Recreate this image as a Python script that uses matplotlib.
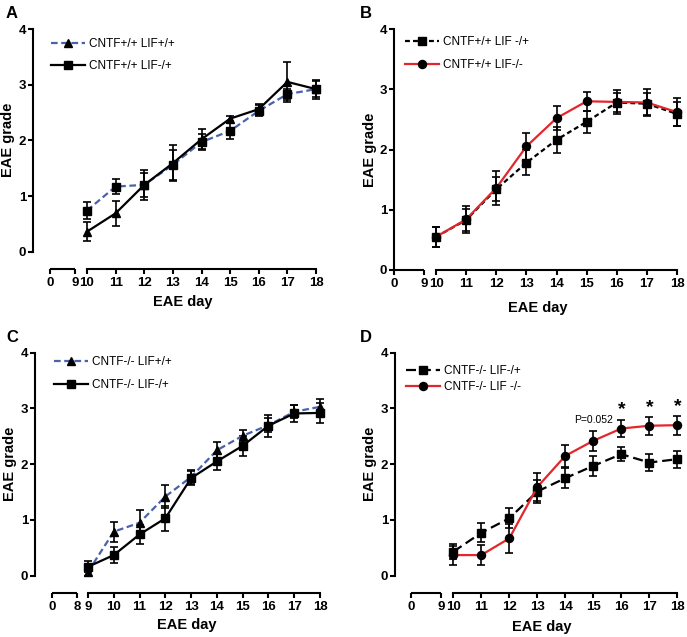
"""EAE clinical score time courses, four panels (A-D)."""

import matplotlib
matplotlib.use("Agg")
import matplotlib.pyplot as plt
from matplotlib.lines import Line2D
from matplotlib.transforms import blended_transform_factory, ScaledTranslation
import numpy as np

plt.rcParams["font.family"] = ["Liberation Sans", "DejaVu Sans"]

W, H, DPI = 687, 637, 100
BLUE = "#4a62ab"
RED = "#e2262c"

# ---- data -------------------------------------------------------------
days_a = [10, 11, 12, 13, 14, 15, 16, 17, 18]
a_wt = [0.74, 1.17, 1.20, 1.56, 1.97, 2.17, 2.53, 2.83, 2.92]     # blue dashed line
a_wt_err = [0.15, 0.14, 0.27, 0.27, 0.15, 0.14, 0.10, 0.10, 0.17]
a_het = [0.36, 0.69, 1.20, 1.59, 2.02, 2.39, 2.56, 3.05, 2.92]    # black solid line
a_het_err = [0.17, 0.22, 0.22, 0.32, 0.18, 0.05, 0.10, 0.36, 0.15]

days_b = [10, 11, 12, 13, 14, 15, 16, 17, 18]
b_het = [0.55, 0.83, 1.34, 1.78, 2.16, 2.46, 2.78, 2.76, 2.59]
b_het_err = [0.17, 0.18, 0.20, 0.21, 0.21, 0.18, 0.15, 0.18, 0.20]
b_ko = [0.55, 0.84, 1.36, 2.05, 2.52, 2.80, 2.79, 2.78, 2.62]
b_ko_err = [0.17, 0.22, 0.28, 0.23, 0.20, 0.16, 0.20, 0.22, 0.23]

days_c = [9, 10, 11, 12, 13, 14, 15, 16, 17, 18]
c_wt = [0.07, 0.79, 0.95, 1.42, 1.77, 2.25, 2.51, 2.70, 2.94, 3.03]
c_wt_err = [0.08, 0.18, 0.22, 0.21, 0.12, 0.15, 0.11, 0.12, 0.12, 0.14]
c_het = [0.16, 0.37, 0.74, 1.03, 1.75, 2.05, 2.33, 2.69, 2.91, 2.92]
c_het_err = [0.10, 0.15, 0.17, 0.22, 0.12, 0.15, 0.18, 0.20, 0.15, 0.18]

days_d = [10, 11, 12, 13, 14, 15, 16, 17, 18]
d_het = [0.43, 0.77, 1.03, 1.51, 1.75, 1.97, 2.18, 2.03, 2.09]
d_het_err = [0.13, 0.17, 0.18, 0.20, 0.18, 0.18, 0.12, 0.15, 0.15]
d_ko = [0.37, 0.37, 0.67, 1.59, 2.15, 2.42, 2.64, 2.69, 2.70]
d_ko_err = [0.17, 0.18, 0.26, 0.25, 0.20, 0.18, 0.16, 0.16, 0.17]
d_star_days = [16, 17, 18]
d_pval_day = 15
d_pval = "P=0.052"

# ---- layout (pixel positions of each panel) ---------------------------
LAYOUT = {
    "A": dict(left=33, top=29, zero=251.7, xaxis=269, x_first=87, x_last=316,
              seg=(50, 75), seg_labels=("0", "9"), first_day=10,
              letter=(12, 13), xlab=(183, 302), ylab=(8, 140)),
    "B": dict(left=394, top=29, zero=270, xaxis=270, x_first=436, x_last=677,
              seg=(394, 424), seg_labels=("0", "9"), first_day=10,
              letter=(366, 13), xlab=(538, 308), ylab=(370, 150)),
    "C": dict(left=35, top=352.7, zero=575.7, xaxis=593, x_first=88, x_last=320,
              seg=(52, 77), seg_labels=("0", "8"), first_day=9,
              letter=(12, 337), xlab=(187, 625), ylab=(10, 464)),
    "D": dict(left=395, top=352.7, zero=575.7, xaxis=593, x_first=453.3, x_last=677.3,
              seg=(410.7, 440.7), seg_labels=("0", "9"), first_day=10,
              letter=(366, 337), xlab=(542, 627), ylab=(370, 464)),
}


def fx(p):
    return p / W


def fy(p):
    return 1 - p / H


def make_panel(fig, name):
    lay = LAYOUT[name]
    first = lay["first_day"]
    per_day = (lay["x_last"] - lay["x_first"]) / (18 - first)

    def px2day(p):
        return first + (p - lay["x_first"]) / per_day

    ax = fig.add_axes([fx(lay["left"]), fy(lay["zero"]),
                       (lay["x_last"] - lay["left"]) / W, (lay["zero"] - lay["top"]) / H])
    ax.set_xlim(px2day(lay["left"]), 18)
    ax.set_ylim(0, 4)

    for s in ("top", "right"):
        ax.spines[s].set_visible(False)
    offset_px = lay["xaxis"] - lay["zero"]
    ax.spines["bottom"].set_position(("outward", offset_px * 72 / DPI))
    ax.spines["bottom"].set_bounds(first, 18)
    ax.spines["left"].set_bounds(0, 4)
    for s in ("bottom", "left"):
        ax.spines[s].set_linewidth(1.5)

    seg = [px2day(p) for p in lay["seg"]]
    days = list(range(first, 19))
    ax.set_xticks(seg + days)
    ax.set_xticklabels(list(lay["seg_labels"]) + [str(d) for d in days])
    ax.set_yticks([0, 1, 2, 3, 4])
    ax.tick_params(width=1.5, length=3.5, labelsize=9.5, pad=1.5)
    ax.tick_params(axis="x", pad=2.5)
    for lbl in ax.get_xticklabels() + ax.get_yticklabels():
        lbl.set_fontweight("bold")

    # short first segment of the broken x axis
    tr = blended_transform_factory(ax.transData, ax.transAxes) + \
        ScaledTranslation(0, -offset_px / DPI, fig.dpi_scale_trans)
    ax.plot(seg, [0, 0], color="black", lw=1.5, transform=tr, clip_on=False,
            solid_capstyle="butt")

    fig.text(fx(lay["letter"][0]), fy(lay["letter"][1]), name, fontsize=12,
             fontweight="bold", ha="center", va="center")
    fig.text(fx(lay["xlab"][0]), fy(lay["xlab"][1]), "EAE day", fontsize=10.5,
             fontweight="bold", ha="center", va="center")
    fig.text(fx(lay["ylab"][0]), fy(lay["ylab"][1]), "EAE grade", fontsize=10.5,
             fontweight="bold", ha="center", va="center", rotation=90)
    return ax


def series(ax, x, y, err, color, ls, marker, ms=6.3, lw=1.6):
    eb = ax.errorbar(x, y, yerr=err, fmt="none", ecolor="black", elinewidth=1.2,
                     capsize=3, capthick=1.2, zorder=2)
    for child in eb.get_children():
        child.set_clip_on(False)
    line, = ax.plot(x, y, color=color, lw=lw, marker=marker, ms=ms, mfc="black",
                    mec="black", clip_on=False, zorder=3)
    if isinstance(ls, tuple):
        line.set_dashes(ls)
    else:
        line.set_linestyle(ls)
    return line


def handle(color, ls, marker, ms=6.3):
    h = Line2D([], [], color=color, lw=1.6, marker=marker, ms=ms, mfc="black", mec="black")
    if isinstance(ls, tuple):
        h.set_dashes(ls)
    else:
        h.set_linestyle(ls)
    return h


def legend(ax, handles, labels, x, y, spacing):
    ax.legend(handles, labels, loc="upper left", bbox_to_anchor=(fx(x), fy(y)),
              bbox_transform=ax.figure.transFigure, frameon=False, fontsize=8.5,
              borderpad=0, borderaxespad=0, handlelength=2.9, handletextpad=0.35,
              labelspacing=spacing, numpoints=1)


fig = plt.figure(figsize=(W / DPI, H / DPI), dpi=DPI)

blue_dash = (3.0, 1.6)
b_dash = (2.2, 1.4)
d_dash = (4.5, 2.2)

# A
ax = make_panel(fig, "A")
series(ax, days_a, a_wt, a_wt_err, BLUE, blue_dash, "s")
series(ax, days_a, a_het, a_het_err, "black", "-", "^")
legend(ax, [handle(BLUE, blue_dash, "^"), handle("black", "-", "s")],
       ["CNTF+/+ LIF+/+", "CNTF+/+ LIF-/+"], 51, 38, 0.85)

# B
ax = make_panel(fig, "B")
series(ax, days_b, b_het, b_het_err, "black", b_dash, "s")
series(ax, days_b, b_ko, b_ko_err, RED, "-", "o", ms=5.8)
legend(ax, [handle("black", b_dash, "s"), handle(RED, "-", "o", ms=5.8)],
       ["CNTF+/+ LIF -/+", "CNTF+/+ LIF-/-"], 405, 36, 0.95)

# C
ax = make_panel(fig, "C")
series(ax, days_c, c_wt, c_wt_err, BLUE, blue_dash, "^")
series(ax, days_c, c_het, c_het_err, "black", "-", "s")
legend(ax, [handle(BLUE, blue_dash, "^"), handle("black", "-", "s")],
       ["CNTF-/- LIF+/+", "CNTF-/- LIF-/+"], 54, 356, 0.95)

# D
ax = make_panel(fig, "D")
series(ax, days_d, d_het, d_het_err, "black", d_dash, "s")
series(ax, days_d, d_ko, d_ko_err, RED, "-", "o", ms=5.8)
legend(ax, [handle("black", d_dash, "s"), handle(RED, "-", "o", ms=5.8)],
       ["CNTF-/- LIF-/+", "CNTF-/- LIF -/-"], 406, 365, 0.35)
idx = days_d.index(d_pval_day)
ax.text(d_pval_day, d_ko[idx] + d_ko_err[idx] + 0.2, d_pval, fontsize=7.5,
        ha="center", va="center")
for d in d_star_days:
    i = days_d.index(d)
    ax.text(d, d_ko[i] + d_ko_err[i] + 0.02, "*", fontsize=14, fontweight="bold",
            ha="center", va="bottom")

fig.savefig("out.png", dpi=DPI)
